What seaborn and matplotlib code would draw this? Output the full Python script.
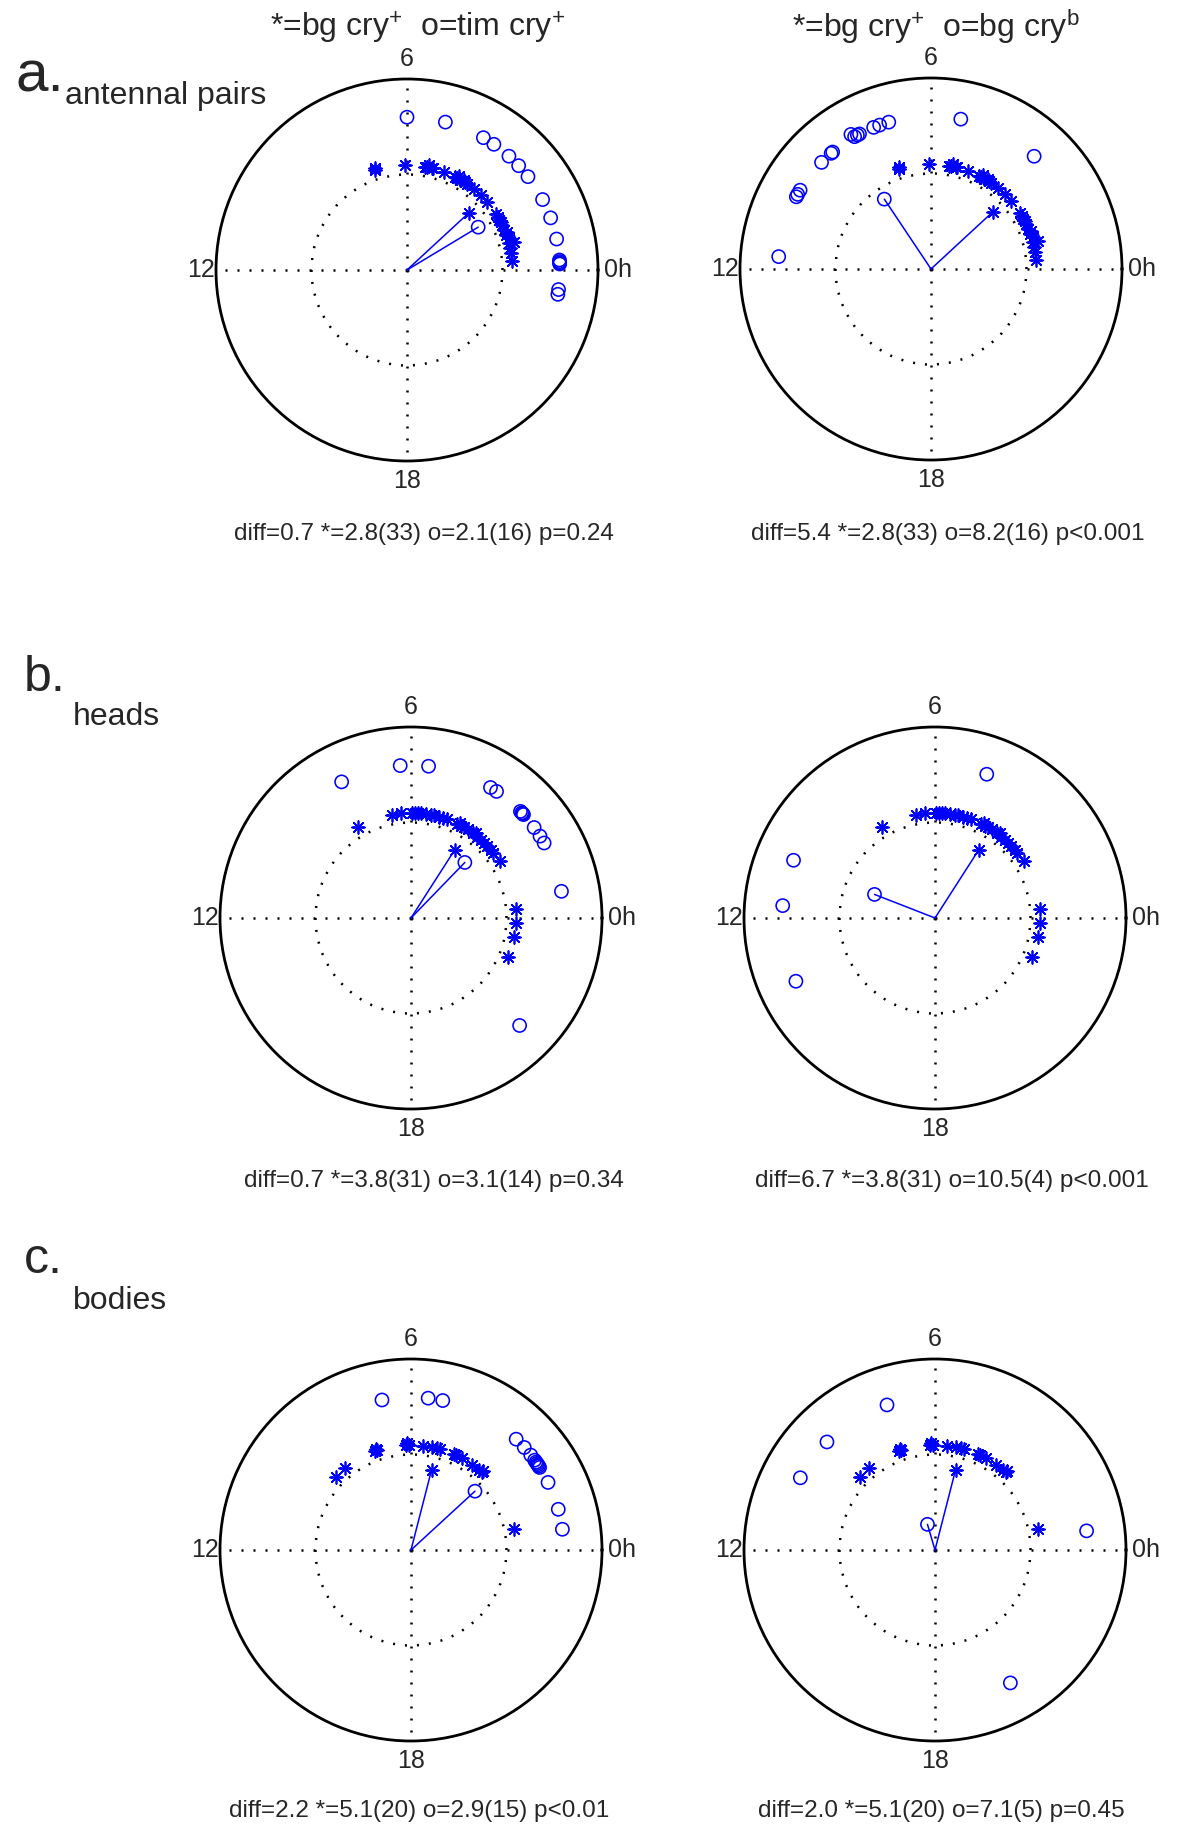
import numpy as np
import matplotlib
matplotlib.use("Agg")
import matplotlib.pyplot as plt
import seaborn as sns

# phases in circadian hours (0h at right, counter-clockwise)
# a. antennal pairs
ant_star_h = [7.2, 7.15, 6.08, 5.33, 5.25, 5.2, 5.1, 5.05, 4.61, 4.19, 4.1,
              4.07, 3.96, 3.85, 3.78, 3.67, 3.35, 3.02, 2.67, 2.13, 2.0, 1.91,
              1.8, 1.69, 1.5, 1.4, 1.29, 1.15, 0.99, 0.97, 0.8, 0.61, 0.34]
ant_star_r = [0.55, 0.56, 0.55, 0.55, 0.55, 0.56, 0.55, 0.55, 0.55, 0.55, 0.55,
              0.56, 0.55, 0.56, 0.55, 0.55, 0.55, 0.55, 0.55, 0.55, 0.55, 0.55,
              0.55, 0.55, 0.55, 0.56, 0.55, 0.56, 0.55, 0.58, 0.55, 0.55, 0.55]
ant_tim_h = [6.0, 5.03, 4.0, 3.69, 3.21, 2.87, 2.51, 1.83, 1.33, 0.78, 0.25,
             0.21, 0.18, 0.15, 23.51, 23.39]
ant_tim_r = [0.8, 0.8, 0.8, 0.8, 0.8, 0.8, 0.8, 0.8, 0.8, 0.8, 0.8,
             0.8, 0.8, 0.8, 0.8, 0.8]
ant_cryb_h = [11.69, 10.12, 10.05, 9.93, 9.05, 8.72, 8.67, 8.05, 8.0, 7.92,
              7.86, 7.47, 7.31, 7.07, 5.25, 3.17]
ant_cryb_r = [0.8, 0.8, 0.8, 0.8, 0.8, 0.8, 0.8, 0.82, 0.8, 0.8,
              0.8, 0.8, 0.8, 0.8, 0.8, 0.8]

# b. heads
head_star_h = [8.01, 6.7, 6.37, 5.97, 5.84, 5.75, 5.65, 5.47, 5.28, 5.16, 4.96,
               4.83, 4.67, 4.27, 4.2, 4.11, 4.0, 3.83, 3.61, 3.5, 3.39, 3.21,
               3.06, 2.89, 2.71, 2.57, 2.17, 0.31, 23.8, 23.3, 22.53]
head_star_r = [0.55, 0.55, 0.55, 0.55, 0.55, 0.55, 0.55, 0.55, 0.55, 0.55, 0.55,
               0.55, 0.55, 0.55, 0.56, 0.55, 0.55, 0.55, 0.55, 0.56, 0.55, 0.55,
               0.55, 0.55, 0.55, 0.55, 0.55, 0.55, 0.55, 0.55, 0.55]
head_tim_h = [7.8, 6.27, 5.56, 3.91, 3.73, 2.95, 2.9, 2.87, 2.84, 2.42, 2.16,
              1.96, 0.67, 21.02]
head_tim_r = [0.8, 0.8, 0.8, 0.8, 0.8, 0.8, 0.8, 0.8, 0.8, 0.8, 0.8,
              0.8, 0.8, 0.8]
head_cryb_h = [4.68, 10.52, 11.69, 13.63]
head_cryb_r = [0.8, 0.8, 0.8, 0.8]

# c. bodies
body_star_h = [9.04, 8.59, 7.32, 7.28, 7.24, 6.17, 6.13, 6.09, 5.55, 5.23,
               5.05, 4.95, 4.4, 4.32, 4.05, 3.63, 3.33, 3.2, 3.17, 0.76]
body_star_r = [0.55, 0.55, 0.55, 0.56, 0.55, 0.55, 0.56, 0.55, 0.55, 0.55,
               0.55, 0.55, 0.55, 0.55, 0.55, 0.55, 0.55, 0.56, 0.55, 0.55]
body_tim_h = [6.73, 5.57, 5.2, 3.1, 2.81, 2.56, 2.4, 2.34, 2.3, 2.26, 2.22,
              2.18, 1.75, 1.03, 0.52]
body_tim_r = [0.8, 0.8, 0.8, 0.8, 0.8, 0.8, 0.8, 0.8, 0.8, 0.8, 0.8,
              0.8, 0.8, 0.8, 0.8]
body_cryb_h = [7.22, 9.0, 10.12, 0.48, 19.97]
body_cryb_r = [0.8, 0.8, 0.8, 0.8, 0.8]

# mean vectors (hours, length)
ant_means = {"star": (2.85, 0.44), "tim": (2.07, 0.435), "cryb": (8.25, 0.44)}
head_means = {"star": (3.82, 0.425), "tim": (3.06, 0.405), "cryb": (10.58, 0.34)}
body_means = {"star": (5.04, 0.435), "tim": (2.84, 0.455), "cryb": (7.09, 0.14)}

stats = [
    "diff=0.7 *=2.8(33) o=2.1(16) p=0.24",
    "diff=5.4 *=2.8(33) o=8.2(16) p<0.001",
    "diff=0.7 *=3.8(31) o=3.1(14) p=0.34",
    "diff=6.7 *=3.8(31) o=10.5(4) p<0.001",
    "diff=2.2 *=5.1(20) o=2.9(15) p<0.01",
    "diff=2.0 *=5.1(20) o=7.1(5) p=0.45",
]

sns.set_style("white")
plt.rcParams["font.family"] = ["Liberation Sans", "DejaVu Sans"]
plt.rcParams["mathtext.fontset"] = "custom"
plt.rcParams["mathtext.rm"] = "Liberation Sans"
plt.rcParams["mathtext.it"] = "Liberation Sans:italic"

W, H = 1200, 1828
R = 191
BLUE = "#0000ff"
ASTERISK = (8, 2, 0)

fig = plt.figure(figsize=(W / 100, H / 100), dpi=100)
fig.patch.set_facecolor("white")


def rad(hours):
    return np.asarray(hours, dtype=float) / 24.0 * 2 * np.pi


def polar_panel(cx, cy, star_h, star_r, circ_h, circ_r, star_mean, circ_mean):
    ax = fig.add_axes([(cx - R) / W, 1 - (cy + R) / H, 2 * R / W, 2 * R / H],
                      projection="polar")
    ax.set_facecolor("white")

    # 평균 벡터
    for h, r in (star_mean, circ_mean):
        ax.plot([rad(h), rad(h)], [0, r], color=BLUE, lw=1.1, zorder=3)

    sns.scatterplot(x=rad(star_h), y=star_r, ax=ax, marker=ASTERISK, s=85,
                    color=BLUE, linewidth=1.25, legend=False, zorder=4)
    sns.scatterplot(x=rad(circ_h), y=circ_r, ax=ax, marker="o", s=90,
                    color=BLUE, facecolor="none", edgecolor=BLUE,
                    linewidth=1.15, legend=False, zorder=4)
    sns.scatterplot(x=rad([star_mean[0]]), y=[star_mean[1]], ax=ax,
                    marker=ASTERISK, s=85, color=BLUE, linewidth=1.25,
                    legend=False, zorder=4)
    sns.scatterplot(x=rad([circ_mean[0]]), y=[circ_mean[1]], ax=ax,
                    marker="o", s=90, color=BLUE, facecolor="none",
                    edgecolor=BLUE, linewidth=1.15, legend=False, zorder=4)

    ax.set_ylim(0, 1)
    ax.set_yticks([0.5])
    ax.set_yticklabels([])
    ax.set_xticks(rad([0, 6, 12, 18]))
    ax.set_xticklabels([])
    ax.tick_params(length=0)
    ax.set_xlabel("")
    ax.set_ylabel("")
    ax.grid(True, color="black", linestyle=(0, (0.8, 4.0)), linewidth=1.8)
    ax.spines["polar"].set_color("black")
    ax.spines["polar"].set_linewidth(2.0)

    # 시간 라벨
    ax.text(rad(0), 1.03, "0h", ha="left", va="center", fontsize=18)
    ax.text(rad(6), 1.04, "6", ha="center", va="bottom", fontsize=18)
    ax.text(rad(12), 1.005, "12", ha="right", va="center", fontsize=18)
    ax.text(rad(18), 1.04, "18", ha="center", va="top", fontsize=18)
    return ax


centers = [(407, 270), (931, 269), (411, 918), (935, 918), (411, 1550), (935, 1550)]
panels = [
    (ant_star_h, ant_star_r, ant_tim_h, ant_tim_r, ant_means["star"], ant_means["tim"]),
    (ant_star_h, ant_star_r, ant_cryb_h, ant_cryb_r, ant_means["star"], ant_means["cryb"]),
    (head_star_h, head_star_r, head_tim_h, head_tim_r, head_means["star"], head_means["tim"]),
    (head_star_h, head_star_r, head_cryb_h, head_cryb_r, head_means["star"], head_means["cryb"]),
    (body_star_h, body_star_r, body_tim_h, body_tim_r, body_means["star"], body_means["tim"]),
    (body_star_h, body_star_r, body_cryb_h, body_cryb_r, body_means["star"], body_means["cryb"]),
]
for (cx, cy), p in zip(centers, panels):
    polar_panel(cx, cy, *p)


def ftext(x, y, s, **kw):
    fig.text(x / W, 1 - y / H, s, **kw)


# 열 제목
ftext(418, 37, r"*=bg cry$^{+}$  o=tim cry$^{+}$", ha="center",
      va="baseline", fontsize=23)
ftext(936, 37, r"*=bg cry$^{+}$  o=bg cry$^{\rm b}$", ha="center",
      va="baseline", fontsize=23)

# 패널 라벨
ftext(15, 91, "a.", ha="left", va="baseline", fontsize=42)
ftext(65, 104, "antennal pairs", ha="left", va="baseline", fontsize=23)
ftext(24, 691, "b.", ha="left", va="baseline", fontsize=36)
ftext(73, 725, "heads", ha="left", va="baseline", fontsize=23)
ftext(24, 1273, "c.", ha="left", va="baseline", fontsize=36)
ftext(73, 1309, "bodies", ha="left", va="baseline", fontsize=23)

# 통계 텍스트
stat_pos = [(424, 534), (948, 534), (434, 1181), (952, 1181), (419, 1811), (941, 1811)]
for (x, y), s in zip(stat_pos, stats):
    ftext(x, y, s, ha="center", va="center", fontsize=17.5)

fig.savefig("out.png", dpi=100, facecolor="white")
